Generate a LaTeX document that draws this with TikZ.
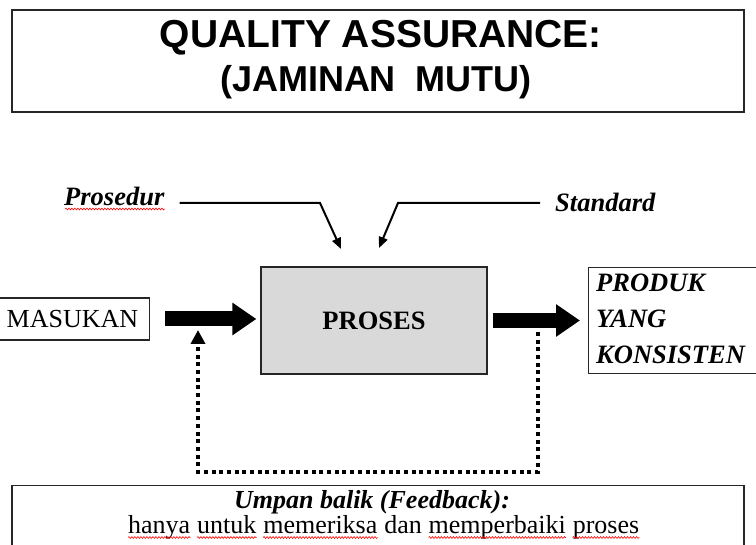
\documentclass[tikz,border=0pt]{standalone}
\usepackage{fontspec}
\setmainfont{Liberation Serif}
\newfontfamily\headfont{Liberation Sans}
\usetikzlibrary{arrows.meta,calc,decorations.pathmorphing}

\begin{document}
\begin{tikzpicture}[x=1pt,y=-1pt,
  box/.style={draw=black!85, line width=1.2pt, inner sep=0pt},
  txt/.style={inner sep=0pt, font=\fontsize{26}{32}\selectfont},
  bitxt/.style={inner sep=0pt, font=\fontsize{26.5}{32}\selectfont\bfseries\itshape},
  headtxt/.style={inner sep=0pt, anchor=base},
  thin arrow/.style={line width=2pt, -{Triangle[length=11pt,width=9pt]}},
  block arrow/.style={line width=15pt, -{Triangle[length=24pt,width=31pt]}},
  feedback/.style={line width=4pt, dash pattern=on 4pt off 3.7pt,
    -{Triangle[length=14pt,width=14pt]}},
  spell/.style={draw=red, line width=0.6pt, decorate,
    decoration={snake, amplitude=0.9pt, segment length=3pt}},
]
\useasboundingbox (0,0) rectangle (756,545);

% heading
\node[box, minimum width=732pt, minimum height=102pt] (title) at (378,61) {};
\node[headtxt, font=\headfont\bfseries\fontsize{39}{44}\selectfont] (t1) at (381,48) {QUALITY ASSURANCE:};
\node[headtxt, font=\headfont\bfseries\fontsize{36}{42}\selectfont] (t2) at (376,92) {(JAMINAN\ \ MUTU)};

% control inputs
\node[bitxt, anchor=base west] (prosedur) at (64,206) {Prosedur};
\node[bitxt, anchor=base west] (standard) at (555,212) {Standard};
\draw[spell] ($(prosedur.base west)+(1,3)$) -- ($(prosedur.base east)+(0,3)$);

\coordinate (pBend) at (320,203);
\coordinate (pTip) at (341,249);
\coordinate (sBend) at (398,203);
\coordinate (sTip) at (379,248);
\draw[thin arrow] ($(prosedur.base east)+(15,-3)$) -- (pBend) -- (pTip);
\draw[thin arrow] ($(standard.base west)+(-15,-9)$) -- (sBend) -- (sTip);

% main flow
\node[box, txt, minimum width=154pt, minimum height=42pt, text depth=0pt,
      anchor=east] (masukan) at (150,319) {MASUKAN};
\node[box, fill=gray!30, minimum width=226pt, minimum height=107pt,
      font=\fontsize{26.5}{32}\selectfont\bfseries, text depth=0pt] (proses) at (374,320.5) {PROSES};
\node[box, minimum width=172pt, minimum height=106pt, anchor=north west] (produk) at (588,267) {};
\node[bitxt, anchor=base west] (pr1) at (596,292) {PRODUK};
\node[bitxt, anchor=base west] (pr2) at (596,328) {YANG};
\node[bitxt, anchor=base west] (pr3) at (596,364) {KONSISTEN};

\draw[block arrow] ($(masukan.east)+(15,0)$) -- ($(proses.west |- masukan.east)+(-4,0)$);
\draw[block arrow] ($(proses.east)+(5,0)$) -- ($(produk.west |- proses.east)+(-8,0)$);

% feedback loop
\coordinate (fbStart) at (537.5,332);
\coordinate (fbRight) at (537.5,472);
\coordinate (fbLeft) at (198,472);
\coordinate (fbEnd) at (198,330);
\draw[feedback] (fbStart) -- (fbRight) -- (fbLeft) -- (fbEnd);

% feedback note
\node[box, minimum width=732pt, minimum height=90pt, anchor=north] (note) at (378,485) {};
\node[bitxt, anchor=base, font=\fontsize{26}{32}\selectfont\bfseries\itshape] (notehead) at (372,509) {Umpan balik (Feedback):};
\node[txt, anchor=base west] (w1) at (128,534) {hanya};
\node[txt, anchor=base west] (w2) at ([xshift=6.5pt]w1.base east) {untuk};
\node[txt, anchor=base west] (w3) at ([xshift=6.5pt]w2.base east) {memeriksa};
\node[txt, anchor=base west] (w4) at ([xshift=6.5pt]w3.base east) {dan};
\node[txt, anchor=base west] (w5) at ([xshift=6.5pt]w4.base east) {memperbaiki};
\node[txt, anchor=base west] (w6) at ([xshift=6.5pt]w5.base east) {proses};
\foreach \w in {w1,w2,w3,w5,w6}
  \draw[spell] ($(\w.base west)+(0,3.5)$) -- ($(\w.base east)+(0,3.5)$);
\end{tikzpicture}
\end{document}
